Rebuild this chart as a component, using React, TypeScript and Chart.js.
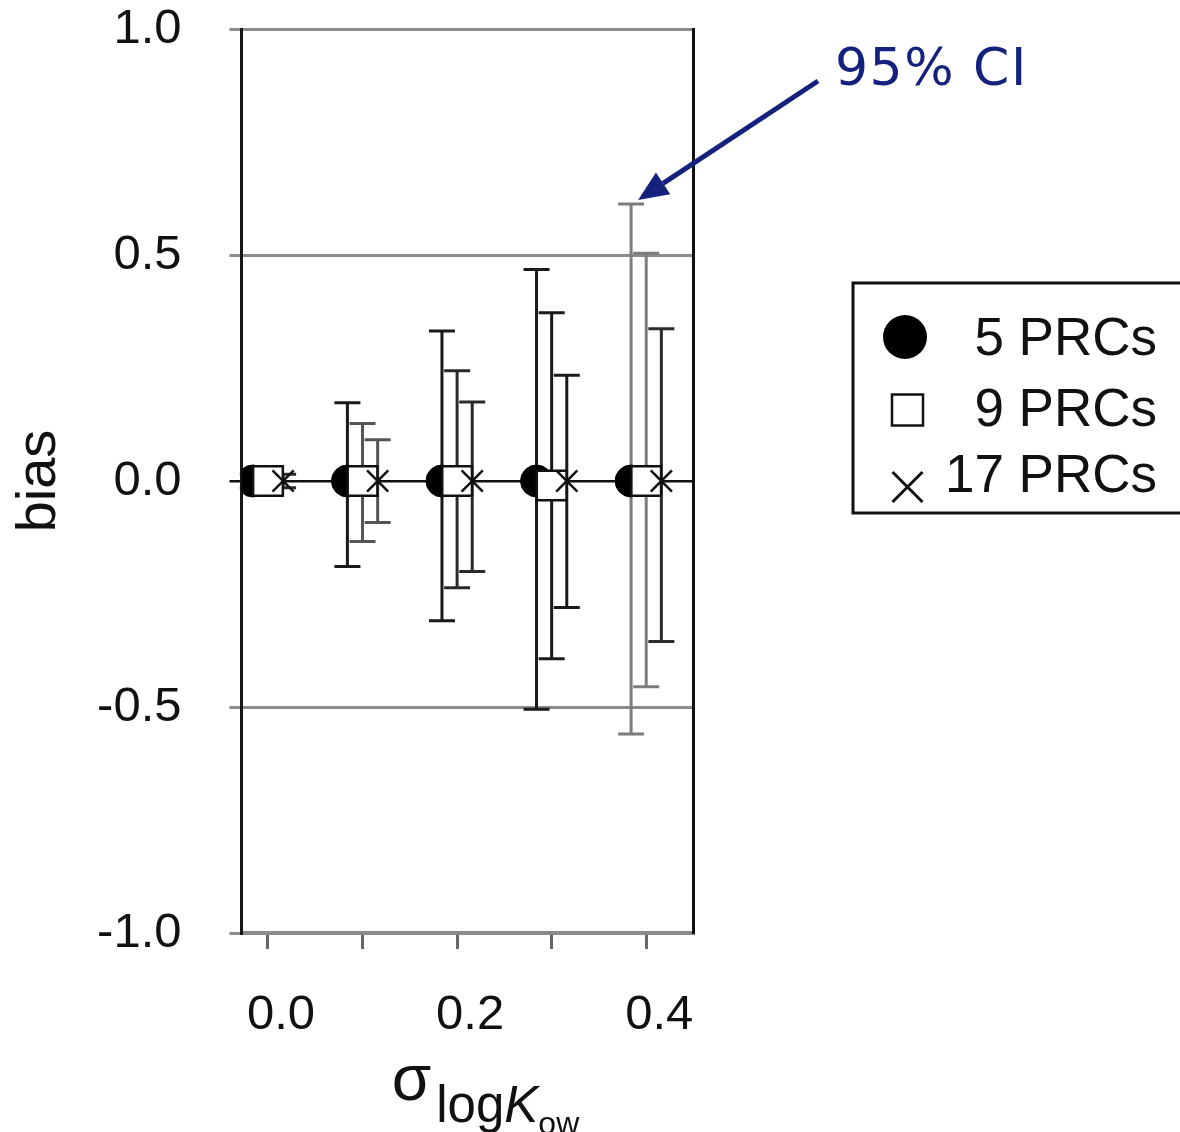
import { useEffect, useRef } from 'react';
import { Chart, registerables } from 'chart.js';

Chart.register(...registerables);

// ---------- data ----------
const X_VALUES = [0, 0.1, 0.2, 0.3, 0.4];
const X_TICKS = [0, 0.1, 0.2, 0.3, 0.4];
const X_LABELED = [0, 0.2, 0.4];
const SERIES_NAMES = ['5 PRCs', '9 PRCs', '17 PRCs'];

const BIAS_5 = [0, 0, 0, 0, 0];
const LOWER_5 = [-0.015, -0.189, -0.309, -0.505, -0.56];
const UPPER_5 = [0.015, 0.173, 0.332, 0.468, 0.613];

const BIAS_9 = [0, 0, 0, -0.01, 0];
const LOWER_9 = [-0.015, -0.134, -0.236, -0.393, -0.455];
const UPPER_9 = [0.015, 0.127, 0.244, 0.372, 0.504];

const BIAS_17 = [0, 0, 0, 0, 0];
const LOWER_17 = [-0.015, -0.092, -0.2, -0.28, -0.355];
const UPPER_17 = [0.015, 0.091, 0.175, 0.234, 0.337];

const ANNOTATION_TEXT = '95% CI';

// ---------- styles ----------
const FONT = "'Liberation Sans', Arial, sans-serif";
const NAVY = '#15227d';
const OFFSETS = [-0.016, 0, 0.016];
const BAR_COLORS = [
  ['#1a1a1a', '#1a1a1a', '#1a1a1a', '#1a1a1a', '#7d7d7d'],
  ['#2a2a2a', '#555555', '#2a2a2a', '#1a1a1a', '#7d7d7d'],
  ['#2a2a2a', '#555555', '#2a2a2a', '#1a1a1a', '#2a2a2a'],
];

const SERIES = [
  { bias: BIAS_5, lo: LOWER_5, hi: UPPER_5 },
  { bias: BIAS_9, lo: LOWER_9, hi: UPPER_9 },
  { bias: BIAS_17, lo: LOWER_17, hi: UPPER_17 },
];

const decor = {
  id: 'decor',
  beforeDatasetsDraw(chart: any) {
    const { ctx } = chart;
    const xs = chart.scales.x;
    const ys = chart.scales.y;
    ctx.save();
    ctx.lineWidth = 3;
    SERIES.forEach((s, i) => {
      s.lo.forEach((lo, j) => {
        const px = xs.getPixelForValue(X_VALUES[j] + OFFSETS[i]);
        const pTop = ys.getPixelForValue(s.hi[j]);
        const pBot = ys.getPixelForValue(lo);
        ctx.strokeStyle = BAR_COLORS[i][j];
        ctx.beginPath();
        ctx.moveTo(px, pTop);
        ctx.lineTo(px, pBot);
        ctx.moveTo(px - 13, pTop);
        ctx.lineTo(px + 13, pTop);
        ctx.moveTo(px - 13, pBot);
        ctx.lineTo(px + 13, pBot);
        ctx.stroke();
      });
    });
    ctx.restore();
  },
  afterDraw(chart: any) {
    const { ctx, chartArea } = chart;
    const xs = chart.scales.x;
    const ys = chart.scales.y;
    ctx.save();

    // right border
    ctx.strokeStyle = '#111';
    ctx.lineWidth = 3;
    ctx.beginPath();
    ctx.moveTo(chartArea.right, chartArea.top - 1);
    ctx.lineTo(chartArea.right, chartArea.bottom + 1);
    ctx.stroke();

    // x-axis title: sigma_logK_ow
    const cx = (chartArea.left + chartArea.right) / 2 + 18;
    const parts = [
      { t: 'σ', f: `64px ${FONT}`, dy: 0 },
      { t: 'log', f: `51px ${FONT}`, dy: 22 },
      { t: 'K', f: `italic 51px ${FONT}`, dy: 22 },
      { t: 'ow', f: `32px ${FONT}`, dy: 34 },
    ];
    let total = 0;
    const widths = parts.map((p) => {
      ctx.font = p.f;
      const w = ctx.measureText(p.t).width;
      total += w;
      return w;
    });
    total += 5;
    let tx = cx - total / 2;
    const baseY = 1100;
    ctx.fillStyle = '#111';
    ctx.textAlign = 'left';
    ctx.textBaseline = 'alphabetic';
    parts.forEach((p, k) => {
      ctx.font = p.f;
      ctx.fillText(p.t, tx, baseY + p.dy);
      tx += widths[k] + (k === 0 ? 5 : 0);
    });

    // legend
    ctx.strokeStyle = '#111';
    ctx.lineWidth = 3;
    ctx.strokeRect(853, 283, 340, 230);
    ctx.fillStyle = '#000';
    ctx.beginPath();
    ctx.arc(905, 337, 22, 0, Math.PI * 2);
    ctx.fill();
    ctx.fillStyle = '#fff';
    ctx.lineWidth = 2.5;
    ctx.fillRect(892, 394.5, 31, 31);
    ctx.strokeRect(892, 394.5, 31, 31);
    ctx.lineWidth = 3;
    ctx.beginPath();
    ctx.moveTo(892.5, 472);
    ctx.lineTo(922.5, 502);
    ctx.moveTo(922.5, 472);
    ctx.lineTo(892.5, 502);
    ctx.stroke();
    ctx.fillStyle = '#111';
    ctx.font = `53px ${FONT}`;
    ctx.textAlign = 'right';
    const baselines = [355, 426, 492];
    SERIES_NAMES.forEach((n, k) => ctx.fillText(n, 1157, baselines[k]));

    // annotation
    ctx.fillStyle = NAVY;
    ctx.textAlign = 'left';
    ctx.font = `52px 'DejaVu Sans', sans-serif`;
    (ctx as any).letterSpacing = '1.5px';
    ctx.fillText(ANNOTATION_TEXT, 835, 85);
    (ctx as any).letterSpacing = '0px';

    const tipX = xs.getPixelForValue(X_VALUES[4] + OFFSETS[0]) + 7;
    const tipY = ys.getPixelForValue(UPPER_5[4]) - 4;
    const sx = 818;
    const sy = 81;
    const ang = Math.atan2(tipY - sy, tipX - sx);
    const headLen = 30;
    const headHalf = 13;
    const bx = tipX - headLen * Math.cos(ang);
    const by = tipY - headLen * Math.sin(ang);
    ctx.strokeStyle = NAVY;
    ctx.lineWidth = 5;
    ctx.beginPath();
    ctx.moveTo(sx, sy);
    ctx.lineTo(bx, by);
    ctx.stroke();
    ctx.beginPath();
    ctx.moveTo(tipX, tipY);
    ctx.lineTo(bx + headHalf * Math.sin(ang), by - headHalf * Math.cos(ang));
    ctx.lineTo(bx - headHalf * Math.sin(ang), by + headHalf * Math.cos(ang));
    ctx.closePath();
    ctx.fillStyle = NAVY;
    ctx.fill();

    ctx.restore();
  },
};

export default function App() {
  const ref = useRef<HTMLCanvasElement | null>(null);

  useEffect(() => {
    if (!ref.current) return;
    const chart = new Chart(ref.current, {
      type: 'scatter',
      data: {
        datasets: [
          {
            label: SERIES_NAMES[0],
            data: X_VALUES.map((v, j) => ({ x: v + OFFSETS[0], y: BIAS_5[j] })),
            pointStyle: 'circle',
            pointRadius: 16,
            pointBackgroundColor: '#000',
            pointBorderColor: '#000',
            pointBorderWidth: 1,
            order: 3,
          },
          {
            label: SERIES_NAMES[1],
            data: X_VALUES.map((v, j) => ({ x: v + OFFSETS[1], y: BIAS_9[j] })),
            pointStyle: 'rect',
            pointRadius: 21,
            pointBackgroundColor: '#fff',
            pointBorderColor: '#111',
            pointBorderWidth: 2.5,
            order: 2,
          },
          {
            label: SERIES_NAMES[2],
            data: X_VALUES.map((v, j) => ({ x: v + OFFSETS[2], y: BIAS_17[j] })),
            pointStyle: 'crossRot',
            pointRadius: 15,
            pointBackgroundColor: '#111',
            pointBorderColor: '#111',
            pointBorderWidth: 2.5,
            order: 1,
          },
        ] as any,
      },
      options: {
        responsive: false,
        animation: false,
        devicePixelRatio: 1,
        events: [],
        layout: { padding: { top: 29, right: 486.5, bottom: 0, left: 0 } },
        plugins: { legend: { display: false }, tooltip: { enabled: false } },
        scales: {
          x: {
            type: 'linear',
            min: -0.028,
            max: 0.45,
            afterBuildTicks: (s: any) => {
              s.ticks = X_TICKS.map((v) => ({ value: v }));
            },
            afterFit: (s: any) => {
              s.height = 199;
              s.paddingLeft = 0;
              s.paddingRight = 0;
            },
            grid: { drawOnChartArea: false, tickLength: 16, color: '#666', lineWidth: 3 },
            border: { display: true, color: '#8a8a8a', width: 4 },
            ticks: {
              padding: 37,
              labelOffset: 13,
              color: '#111',
              font: { family: FONT, size: 49 },
              maxRotation: 0,
              autoSkip: false,
              callback: (v: any) =>
                X_LABELED.includes(Math.round(Number(v) * 10) / 10) ? Number(v).toFixed(1) : '',
            },
          },
          y: {
            min: -1,
            max: 1,
            afterFit: (s: any) => {
              s.width = 241.5;
              s.paddingTop = 0;
              s.paddingBottom = 0;
            },
            grid: {
              tickLength: 12,
              color: (c: any) => (c.tick && c.tick.value === 0 ? '#111' : '#8c8c8c'),
              lineWidth: (c: any) => (c.tick && c.tick.value === 0 ? 2.5 : 3),
            },
            border: { display: true, color: '#161616', width: 3 },
            ticks: {
              stepSize: 0.5,
              padding: 48,
              color: '#111',
              font: { family: FONT, size: 49 },
              callback: (v: any) => Number(v).toFixed(1),
            },
            title: {
              display: true,
              text: 'bias',
              color: '#111',
              font: { family: FONT, size: 56 },
              padding: { top: 6, bottom: 0 },
            },
          },
        },
      } as any,
      plugins: [decor],
    });
    return () => chart.destroy();
  }, []);

  return (
    <div style={{ position: 'absolute', left: 0, top: 0, width: 1180, height: 1132, background: '#fff' }}>
      <canvas ref={ref} width={1180} height={1132} style={{ display: 'block' }} />
    </div>
  );
}
